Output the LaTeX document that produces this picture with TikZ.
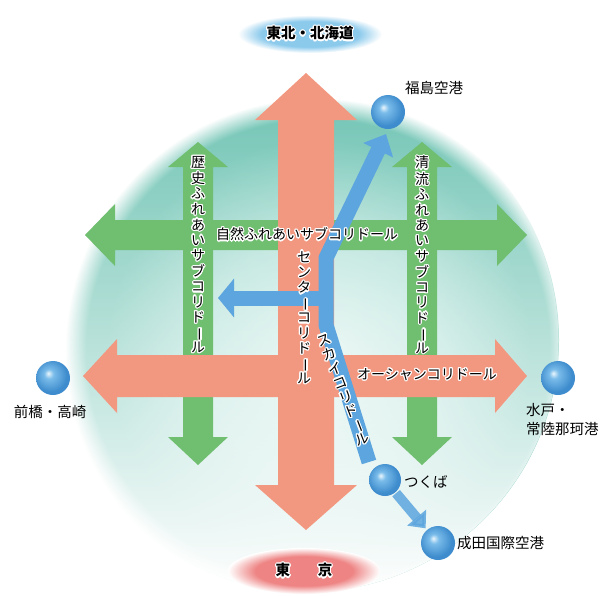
\documentclass[tikz,border=0pt]{standalone}
\usepackage{fontspec}
\usepackage{graphicx}
\usepackage{contour}
\newfontfamily\jp{Noto Sans CJK JP}
\usetikzlibrary{arrows.meta,fadings,shapes.geometric}
\contourlength{1.2pt}
\definecolor{salmon}{RGB}{243,152,128}
\definecolor{corrgreen}{RGB}{112,190,112}
\definecolor{corrblue}{RGB}{92,165,222}
\definecolor{globeteal}{RGB}{112,196,180}
\definecolor{globemid}{RGB}{170,222,212}
\definecolor{globelight}{RGB}{214,240,234}
\definecolor{ballhi}{RGB}{235,246,252}
\definecolor{ballmid}{RGB}{122,188,234}
\definecolor{balledge}{RGB}{62,140,205}
\definecolor{ellblue}{RGB}{140,202,236}
\definecolor{ellred}{RGB}{238,132,132}
\pgfdeclareradialshading{softblue}{\pgfpoint{0bp}{0bp}}{color(0bp)=(ellblue); color(17bp)=(ellblue); color(25bp)=(white); color(50bp)=(white)}
\pgfdeclareradialshading{softred}{\pgfpoint{0bp}{0bp}}{color(0bp)=(ellred); color(16bp)=(ellred); color(25bp)=(white); color(50bp)=(white)}
\pgfdeclareradialshading{globeshade}{\pgfpoint{2bp}{-2bp}}{color(0bp)=(globelight); color(12bp)=(globemid); color(21bp)=(globeteal); color(23bp)=(globeteal); color(25bp)=(white); color(50bp)=(white)}
\pgfdeclareradialshading{sphere}{\pgfpoint{-7bp}{7bp}}{color(0bp)=(ballhi); color(7bp)=(ballmid); color(24bp)=(balledge); color(30bp)=(balledge); color(50bp)=(balledge)}
\tikzfading[name=fadebottom, top color=transparent!100, middle color=transparent!90, bottom color=transparent!0]
\newcommand\vchars[1]{\begin{tabular}{@{}c@{}}#1\end{tabular}}
\newcommand\vbar{\rotatebox[origin=c]{-90}{ー}}
\begin{document}
\begin{tikzpicture}[x=1pt,y=-1pt,
  corrtext/.style={font=\jp\fontsize{14}{15}\selectfont, inner sep=0pt},
  place/.style={font=\jp\fontsize{14.5}{17}\selectfont, inner sep=0pt, text=black},
  ballnode/.style={circle, shade, shading=sphere, minimum size=34pt, inner sep=0pt},
  bluecorr/.style={draw=corrblue, line width=15pt, line join=miter},
  endlabel/.style={font=\jp\bfseries\fontsize{14.5}{17}\selectfont, inner sep=0pt}]
\useasboundingbox (0,0) rectangle (612,595);
\fill[white] (0,0) rectangle (612,595);
% globe
\shade[shading=globeshade] (307,340) circle (252pt);
\fill[white, path fading=fadebottom] (307,340) circle (252pt);
% green horizontal arrow
\fill[corrgreen] (85,235) -- (115,204) -- (115,220) -- (497,220) -- (497,204) -- (527,235)
  -- (497,266) -- (497,250) -- (115,250) -- (115,266) -- cycle;
% green vertical arrows
\foreach \gx in {198,422}{
  \fill[corrgreen] (\gx,142) -- (\gx+30,167) -- (\gx+15,167) -- (\gx+15,437) -- (\gx+30,437)
    -- (\gx,465) -- (\gx-30,437) -- (\gx-15,437) -- (\gx-15,167) -- (\gx-30,167) -- cycle;
}
% salmon horizontal arrow
\fill[salmon] (83,376) -- (117,339) -- (117,355) -- (495,355) -- (495,339) -- (527,376)
  -- (495,413) -- (495,397) -- (117,397) -- (117,413) -- cycle;
% salmon vertical arrow
\fill[salmon] (306,73) -- (357,120) -- (334,120) -- (334,485) -- (357,485) -- (306,530)
  -- (255,485) -- (278,485) -- (278,120) -- (255,120) -- cycle;
% end ellipses
\node[ellipse, shade, shading=softblue, minimum width=144pt, minimum height=38pt, inner sep=0pt] (tohoku) at (310,34) {};
\node[endlabel] at (tohoku) {\contour{white}{東北・北海道}};
\node[ellipse, shade, shading=softred, minimum width=152pt, minimum height=46pt, inner sep=0pt] (tokyo) at (304,571) {};
\node[endlabel] at (tokyo) {\contour{white}{東\hspace{1.9em}京}};
% balls
\node[ballnode] (fuku) at (388,112) {};
\node[ballnode] (maebashi) at (53,378) {};
\node[ballnode] (mito) at (558,378) {};
\node[ballnode, minimum size=32pt] (tsukuba) at (385,480) {};
\node[ballnode] (narita) at (438,543) {};
% blue corridors
\coordinate (skyend) at (369,462);
\coordinate (skybend) at (326,325);
\coordinate (junction) at (326,298);
\coordinate (skytop) at (326,258);
\coordinate (fukutip) at (386,134);
\coordinate (centertip) at (218,298);
\draw[bluecorr, -{Triangle[width=32pt,length=18pt]}] (skyend) -- (skybend) -- (skytop) -- (fukutip);
\draw[bluecorr, -{Triangle[width=38pt,length=16pt]}] (junction) -- (centertip);
\draw[draw=corrblue, line width=10pt, opacity=.85, -{Triangle[width=24pt,length=14pt]}, shorten <=1pt, shorten >=2pt] (tsukuba) -- (narita);
% corridor labels
\node[corrtext] (shizen) at (307,235) {\contour{white}{自然ふれあいサブコリドール}};
\node[corrtext] (ocean) at (427,375) {\contour{white}{オーシャンコリドール}};
\node[corrtext, anchor=north] (rekishi) at (198,156) {\contour{white}{\vchars{歴\\史\\ふ\\れ\\あ\\い\\サ\\ブ\\コ\\リ\\ド\\\vbar\\ル}}};
\node[corrtext, anchor=north] (seiryu) at (422,156) {\contour{white}{\vchars{清\\流\\ふ\\れ\\あ\\い\\サ\\ブ\\コ\\リ\\ド\\\vbar\\ル}}};
\node[corrtext, anchor=north] (center) at (304,251) {\contour{white}{\vchars{セ\\ン\\タ\\\vbar\\コ\\リ\\ド\\\vbar\\ル}}};
\node[corrtext, rotate=21] (sky) at (344,392) {\contour{white}{\vchars{ス\\カ\\イ\\コ\\リ\\ド\\\vbar\\ル}}};
% place labels
\node[place, anchor=west] at (405,88) {福島空港};
\node[place] at (50,412) {前橋・高崎};
\node[place, anchor=west] at (526,410) {水戸・};
\node[place, anchor=west] at (526,429) {常陸那珂港};
\node[place, anchor=west] at (404,482) {つくば};
\node[place, anchor=west] at (457,543) {成田国際空港};
\end{tikzpicture}
\end{document}
